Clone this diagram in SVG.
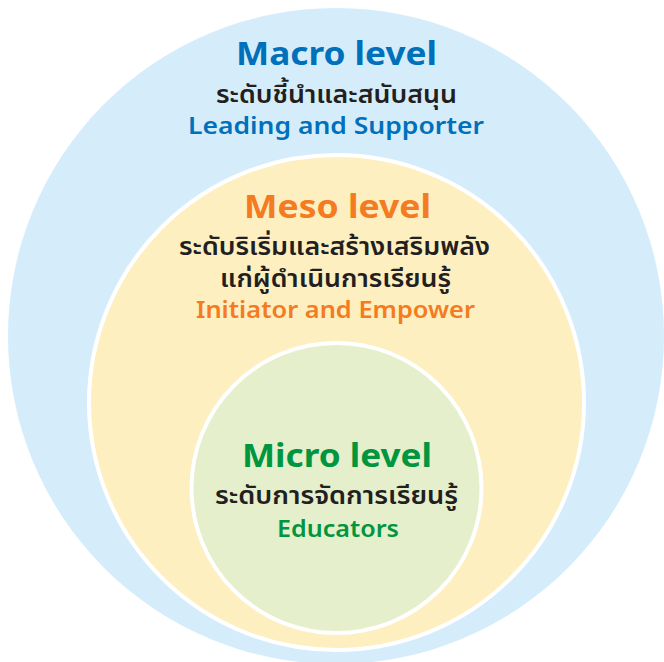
<svg xmlns="http://www.w3.org/2000/svg" width="664" height="662" viewBox="0 0 664 662">
<style>
.t{font-family:"Noto Sans","Noto Sans Thai","Liberation Sans",sans-serif;text-anchor:middle}
.h{font-size:33px;font-weight:700}
.th{font-size:25px;font-weight:600;fill:#231f20}
.en{font-size:24px;font-weight:600}
.blue{fill:#0070ba}.orange{fill:#f47b20}.green{fill:#00963f}
</style>
<rect width="664" height="662" fill="#ffffff"/>
<g id="macro">
<circle cx="336" cy="336" r="328" fill="#d5edfa"/>
<text class="t h blue" x="336.5" y="65" textLength="201" lengthAdjust="spacingAndGlyphs">Macro level</text>
<text class="t th" x="336.5" y="103" textLength="241" lengthAdjust="spacingAndGlyphs">ระดับชี้นำและสนับสนุน</text>
<text class="t en blue" x="336" y="134" textLength="296" lengthAdjust="spacingAndGlyphs">Leading and Supporter</text>
</g>
<g id="meso">
<circle cx="336.5" cy="402.5" r="247.5" fill="#fdefc0" stroke="#ffffff" stroke-width="4"/>
<text class="t h orange" x="337.5" y="218" textLength="187" lengthAdjust="spacingAndGlyphs">Meso level</text>
<text class="t th" x="334.5" y="255" textLength="311" lengthAdjust="spacingAndGlyphs">ระดับริเริ่มและสร้างเสริมพลัง</text>
<text class="t th" x="335.5" y="287" textLength="231" lengthAdjust="spacingAndGlyphs">แก่ผู้ดำเนินการเรียนรู้</text>
<text class="t en orange" x="335.5" y="318" textLength="279" lengthAdjust="spacingAndGlyphs">Initiator and Empower</text>
</g>
<g id="micro">
<circle cx="336.5" cy="488" r="145" fill="#e5efcb" stroke="#ffffff" stroke-width="4"/>
<text class="t h green" x="337" y="467" textLength="190" lengthAdjust="spacingAndGlyphs">Micro level</text>
<text class="t th" x="336.5" y="504" textLength="243" lengthAdjust="spacingAndGlyphs">ระดับการจัดการเรียนรู้</text>
<text class="t en green" x="338" y="537" textLength="122" lengthAdjust="spacingAndGlyphs">Educators</text>
</g>
<g id="connectors"></g>
</svg>
